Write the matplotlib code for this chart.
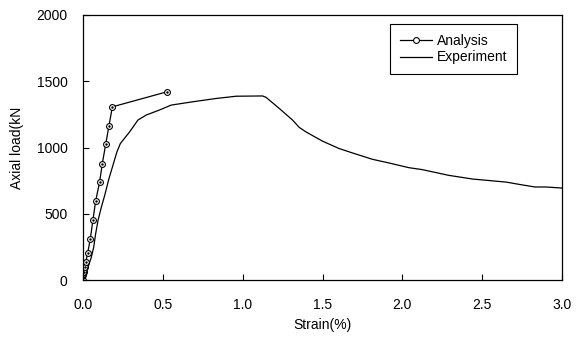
import matplotlib
matplotlib.use("Agg")
import matplotlib.pyplot as plt

plt.rcParams['font.family'] = ['Liberation Sans', 'DejaVu Sans']
plt.rcParams['font.size'] = 10

# analysis results (strain %, axial load kN)
analysis_strain = [0.0, 0.0, 0.004, 0.011, 0.017, 0.029, 0.046, 0.0625, 0.079,
                   0.104, 0.121, 0.142, 0.1625, 0.184, 0.525]
analysis_load = [0, 38, 58, 95, 133, 202, 311, 455, 595,
                 739, 879, 1023, 1164, 1307, 1420]

# test record
exp_strain = [0.0, 0.004, 0.017, 0.031, 0.052, 0.067, 0.079, 0.094, 0.115,
              0.136, 0.1625, 0.1875, 0.2125, 0.234, 0.292, 0.344, 0.396,
              0.479, 0.552, 0.6875, 0.834, 0.959, 1.125, 1.146, 1.229,
              1.3125, 1.354, 1.396, 1.5, 1.604, 1.6875, 1.8125, 1.917, 2.04,
              2.125, 2.29, 2.44, 2.65, 2.73, 2.83, 2.90, 3.0]
exp_load = [0, 8, 33, 95, 171, 247, 348, 449, 550,
            639, 765, 866, 967, 1030, 1118, 1207, 1245,
            1283, 1320, 1345, 1370, 1387, 1389, 1379, 1295,
            1207, 1152, 1118, 1048, 992, 959, 911, 883, 848,
            833, 790, 762, 739, 722, 702, 702, 694]

fig = plt.figure(figsize=(5.81, 3.38), dpi=100)
ax = fig.add_axes([83 / 581, 1 - 280 / 338, (562 - 83) / 581, (280 - 15) / 338])

ax.plot(analysis_strain, analysis_load, color='black', lw=0.9,
        marker='o', ms=4.2, mfc='white', mec='black', mew=0.8, label='Analysis')
ax.plot(analysis_strain, analysis_load, ls='none', marker='.', ms=1.5,
        color='black', label='_nolegend_')
ax.plot(exp_strain, exp_load, color='black', lw=0.9, label='Experiment')

ax.set_xlim(0, 3.0)
ax.set_ylim(0, 2000)
ax.set_xticks([0.0, 0.5, 1.0, 1.5, 2.0, 2.5, 3.0])
ax.set_xticklabels(['0.0', '0.5', '1.0', '1.5', '2.0', '2.5', '3.0'])
ax.set_yticks([0, 500, 1000, 1500, 2000])
ax.tick_params(direction='in', length=4.5, width=0.8, colors='black')
ax.tick_params(axis='x', pad=13)
ax.tick_params(axis='y', pad=11)
for s in ax.spines.values():
    s.set_linewidth(0.9)
    s.set_color('black')

ax.set_xlabel('Strain(%)', labelpad=4)
ax.set_ylabel('Axial load(kN', labelpad=9)

leg = ax.legend(loc='upper left', bbox_to_anchor=(390 / 581, 1 - 24 / 338),
                bbox_transform=fig.transFigure, borderaxespad=0,
                fancybox=False, framealpha=1, edgecolor='black',
                handlelength=2.3, handletextpad=0.4, borderpad=0.7,
                labelspacing=0.2)
leg.get_frame().set_linewidth(0.8)

fig.savefig('out.png', dpi=100)
